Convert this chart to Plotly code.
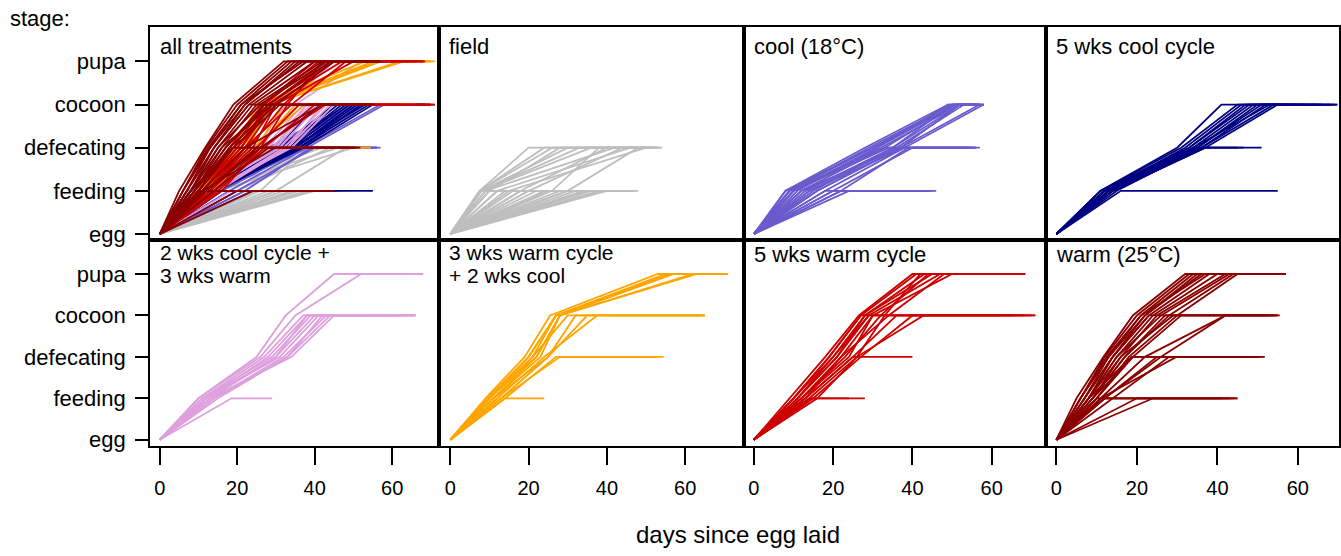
import plotly.graph_objects as go

W, H = 1341, 556

stages = ["egg", "feeding", "defecating", "cocoon", "pupa"]
x_ticks = [0, 20, 40, 60]

# One row per individual: day it reached feeding, defecating, cocoon, pupa
# (as far as it got), followed by the last day it was observed.
field = [
    [7.5, 20, 54], [7.5, 26, 53], [8, 30, 52], [8, 36, 50], [9, 42, 51],
    [12, 46, 52], [15, 50, 54], [20, 44, 49], [26, 38, 48], [30, 48, 52],
    [8, 33, 47], [18, 40, 53], [7.5, 24, 50], [10, 28, 53],
    [7.5, 47], [10, 44], [14, 45], [18, 46], [22, 47], [25, 43], [28, 46],
    [32, 47], [35, 45], [38, 47], [40, 48], [12, 40], [20, 42],
    [16, 44], [24, 46], [30, 45], [34, 47], [36, 46], [39, 47], [9, 42],
]
cool = [
    [8, 28, 49, 57], [8, 30, 50, 58], [9, 30, 51, 56], [10, 32, 52, 55],
    [12, 33, 51, 58], [13, 35, 52, 57], [15, 35, 50, 55], [11, 31, 49, 54],
    [14, 36, 53, 58], [16, 37, 52, 57], [14, 38, 58, 58], [16, 37, 57, 57],
    [9, 29, 50, 56], [10, 31, 51, 57],
    [10, 34, 56], [12, 37, 57], [18, 38, 55], [20, 40, 56], [9, 33, 54],
    [22, 39, 56],
    [24, 46], [20, 45], [22, 44], [18, 42],
]
cool_cycle = [
    [11, 30, 41, 69.8], [11, 31, 45, 68], [12, 32, 46, 66], [12, 33, 47, 65],
    [11, 33, 48, 62], [13, 34, 49, 69.8], [12, 35, 50, 60], [13, 35, 51, 58],
    [14, 36, 52, 56], [12, 34, 53, 55], [14, 37, 55, 56], [13, 36, 54, 69],
    [14, 37, 46.5], [15, 36, 51], [13, 35, 45],
    [16, 55],
]
cool_then_warm = [
    [10, 25, 32.5, 45, 68], [10, 26, 35, 52, 68],
    [11, 27, 37, 66], [12, 28, 38, 64], [11, 29, 39, 65], [13, 30, 40, 66],
    [12, 31, 41, 60], [14, 32, 43, 66], [15, 33, 44, 62], [13, 34, 45, 64],
    [12, 30, 38, 55], [14, 33, 42, 66],
    [18.5, 29],
]
warm_then_cool = [
    [9, 19, 25.5, 53, 69], [9.5, 20, 27, 55, 71], [10, 21, 27, 56, 68],
    [10, 22, 28, 62, 70], [11, 22, 28, 63, 70], [11, 23, 28, 57, 68],
    [10, 20, 27, 57, 68],
    [12, 21, 30, 65], [12, 24, 37.5, 65], [13, 25, 32, 64], [11, 25, 35, 65],
    [13, 28, 54.5], [14, 27, 53],
    [14, 24],
]
warm_cycle = [
    [9, 18, 26.5, 40, 68.5], [10, 19, 27, 41, 66], [10, 20, 28, 43, 62],
    [11, 21, 28, 45, 68], [11, 20, 29, 47, 64], [12, 22, 30, 50, 68],
    [12, 23, 32, 44, 60], [13, 22, 34, 48, 66], [16, 26, 33, 42, 57],
    [10, 19, 27, 71], [11, 21, 29, 65], [12, 24, 30, 70], [13, 25, 36, 68],
    [14, 26, 42.8, 71], [15, 27, 40, 62],
    [13, 25, 40],
    [14.3, 28], [14, 24],
]
warm = [
    [5, 11.7, 19, 32, 57], [6, 12, 20, 33, 55], [6, 13, 21, 34, 56],
    [7, 13, 22, 35, 57], [7, 14, 22, 36, 54], [8, 14, 23, 38, 56],
    [8, 15, 24, 40, 57], [9, 16, 25, 42, 55], [8, 15, 26, 43, 53],
    [9, 17, 28, 44, 56], [10, 18, 30, 45, 54], [6, 12.5, 21, 37, 56],
    [7, 14, 23, 55.5], [8, 16, 29, 54], [9, 17, 27, 55], [10, 19, 31, 53],
    [11, 22, 42, 55], [12, 26, 42, 54.5],
    [8, 18.7, 51.8], [9, 19, 50], [11, 29.8, 51], [12, 25, 49], [14, 28, 50],
    [11.2, 45], [10, 41], [12, 44], [24, 45], [20, 43],
]

treatments = [
    # name, records, colour, panel index (drawn in this order in "all treatments")
    ("field", field, "#BEBEBE", 2),
    ("cool (18°C)", cool, "#6A5ACD", 3),
    ("5 wks cool cycle", cool_cycle, "#000080", 4),
    ("2 wks cool cycle + 3 wks warm", cool_then_warm, "#DDA0DD", 5),
    ("3 wks warm cycle + 2 wks cool", warm_then_cool, "#FFA500", 6),
    ("5 wks warm cycle", warm_cycle, "#CD0000", 7),
    ("warm (25°C)", warm, "#8B0000", 8),
]


def path(records):
    xs, ys = [], []
    for rec in records:
        days, end = rec[:-1], rec[-1]
        xs += [0] + list(days) + [end, None]
        ys += list(range(len(days) + 1)) + [len(days), None]
    return xs, ys


def px_x(p):
    return p / W


def px_y(p):
    return 1 - p / H


# panel grid in pixels
col_edges = [(150, 440), (440, 745), (745, 1048), (1048, 1341)]
col_zero = [160, 451, 755, 1058]
col_scale = [3.88, 3.92, 3.97, 4.03]
row_edges = [(27, 243), (243, 451)]
row_egg = [236.5, 444.5]
row_step = [43.6, 41.875]

fig = go.Figure()

for name, recs, colour, panel in treatments:
    xs, ys = path(recs)
    for p in (1, panel):
        fig.add_trace(go.Scatter(
            x=xs, y=ys, mode="lines", name=name,
            line=dict(color=colour, width=1.8),
            xaxis="x" if p == 1 else f"x{p}",
            yaxis="y" if p == 1 else f"y{p}",
            hoverinfo="skip", showlegend=False,
        ))

titles = {
    1: ["all treatments"], 2: ["field"], 3: ["cool (18°C)"],
    4: ["5 wks cool cycle"], 5: ["2 wks cool cycle +", "3 wks warm"],
    6: ["3 wks warm cycle", "+ 2 wks cool"], 7: ["5 wks warm cycle"],
    8: ["warm (25°C)"],
}

layout = dict(
    width=W, height=H, margin=dict(l=0, r=0, t=0, b=0),
    paper_bgcolor="white", plot_bgcolor="white",
    font=dict(family="Liberation Sans, Arial, sans-serif", size=20, color="black"),
    showlegend=False,
)
annotations = []

for p in range(1, 9):
    r = (p - 1) // 4
    c = (p - 1) % 4
    x0, x1 = col_edges[c]
    y0, y1 = row_edges[r]
    z, k = col_zero[c], col_scale[c]
    egg, st = row_egg[r], row_step[r]
    xr = [(x0 - z) / k, (x1 - z) / k]
    yr = [-(y1 - egg) / st, (egg - y0) / st]
    xa = dict(
        domain=[px_x(x0), px_x(x1)], range=xr, anchor=f"y{p}" if p > 1 else "y",
        showgrid=False, zeroline=False, showline=True, mirror=True,
        linecolor="black", linewidth=1.5,
    )
    ya = dict(
        domain=[px_y(y1), px_y(y0)], range=yr, anchor=f"x{p}" if p > 1 else "x",
        showgrid=False, zeroline=False, showline=True, mirror=True,
        linecolor="black", linewidth=1.5,
    )
    if r == 1:
        xa.update(tickmode="array", tickvals=x_ticks, ticks="outside",
                  ticklen=17, tickwidth=1.5, tickcolor="black",
                  tickfont=dict(size=20), ticklabelstandoff=6)
    else:
        xa.update(showticklabels=False, ticks="")
    if c == 0:
        ya.update(tickmode="array", tickvals=list(range(5)), ticktext=stages,
                  ticks="outside", ticklen=13, tickwidth=1.5, tickcolor="black",
                  tickfont=dict(size=22), ticklabelstandoff=5)
    else:
        ya.update(showticklabels=False, ticks="")
    layout["xaxis" if p == 1 else f"xaxis{p}"] = xa
    layout["yaxis" if p == 1 else f"yaxis{p}"] = ya

    lines = titles[p]
    if len(lines) == 1:
        annotations.append(dict(
            text=lines[0], xref="paper", yref="paper",
            x=px_x(x0 + 8), y=px_y(47 if r == 0 else 257),
            xanchor="left", yanchor="middle", showarrow=False,
            font=dict(size=22, color="black"),
        ))
    else:
        for i, line in enumerate(lines):
            annotations.append(dict(
                text=line, xref="paper", yref="paper",
                x=px_x(x0 + 8), y=px_y(255 + i * 24),
                xanchor="left", yanchor="middle", showarrow=False,
                font=dict(size=21, color="black"),
            ))

annotations.append(dict(
    text="stage:", xref="paper", yref="paper", x=px_x(8), y=px_y(19),
    xanchor="left", yanchor="middle", showarrow=False, font=dict(size=22),
))
annotations.append(dict(
    text="days since egg laid", xref="paper", yref="paper",
    x=px_x(739), y=px_y(540), xanchor="center", yanchor="middle",
    showarrow=False, font=dict(size=24),
))
layout["annotations"] = annotations

fig.update_layout(**layout)
fig.write_html("out.html")
